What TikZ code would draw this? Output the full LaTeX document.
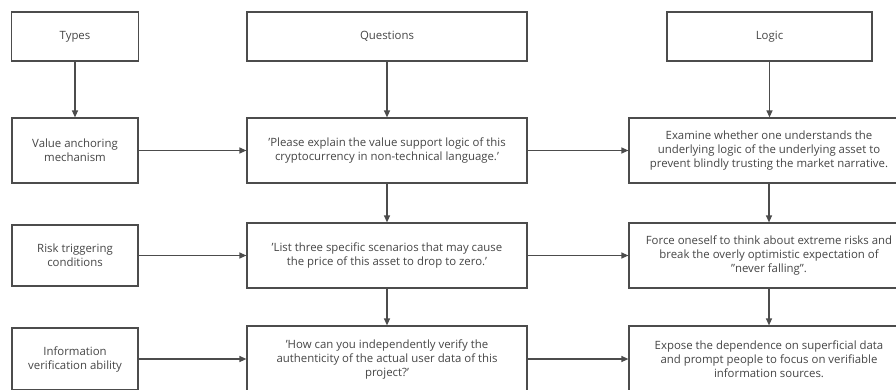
\documentclass[tikz,border=0pt]{standalone}
\usepackage{fontspec}
\setmainfont{Open Sans}
\usetikzlibrary{arrows.meta}
\newcommand{\sq}{\char"0027\relax}
\newcommand{\dq}{\char"0022\relax}
\begin{document}
\begin{tikzpicture}[x=1pt, y=-1pt,
    font=\fontsize{11.4}{14}\selectfont,
    box/.style={draw=boxline, line width=1.2pt, text=txt, align=center,
      inner sep=0pt, minimum height=#1},
    box/.default=65pt,
    flow/.style={draw=boxline, line width=1.2pt,
      -{Triangle[length=7pt,width=6pt]}}]
    \definecolor{boxline}{rgb}{0.30,0.30,0.30}
    \definecolor{txt}{rgb}{0.27,0.27,0.27}
    \useasboundingbox (0,0) rectangle (896,389);
    \clip (0,0) rectangle (896,389);
    \node[box=49pt, minimum width=127pt] (types) at (75,36.5) {Types};
    \node[box=49pt, minimum width=280pt] (quest) at (387,36.5) {Questions};
    \node[box=49pt, minimum width=205pt] (logic) at (769.5,36.5) {Logic};
    \node[box, minimum width=126pt] (value) at (75,150.5) {Value anchoring\\mechanism};
    \node[box, minimum width=280pt] (qvalue) at (387,150.5)
      {\sq Please explain the value support logic of this\\cryptocurrency in non-technical language.\sq};
    \node[box, minimum width=280pt] (lvalue) at (769,150.5)
      {Examine whether one understands the\\underlying logic of the underlying asset to\\prevent blindly trusting the market narrative.};
    \node[box=61pt, minimum width=126pt] (risk) at (75,255.5) {Risk triggering\\conditions};
    \node[box, minimum width=280pt] (qrisk) at (387,255.5)
      {\sq List three specific scenarios that may cause\\the price of this asset to drop to zero.\sq};
    \node[box, minimum width=280pt] (lrisk) at (769,255.5)
      {Force oneself to think about extreme risks and\\break the overly optimistic expectation of\\\dq never falling\dq.};
    \node[box=62pt, minimum width=126pt] (info) at (75,359) {Information\\verification ability};
    \node[box=66pt, minimum width=280pt] (qinfo) at (387,359)
      {\sq How can you independently verify the\\authenticity of the actual user data of this\\project?\sq};
    \node[box=66pt, minimum width=280pt] (linfo) at (769,359)
      {Expose the dependence on superficial data\\and prompt people to focus on verifiable\\information sources.};
    \draw[flow] (types) -- (value);
    \draw[flow] (quest) -- (qvalue);
    \draw[flow] (logic.south) -- (logic.south |- lvalue.north);
    \draw[flow] (value) -- (qvalue);
    \draw[flow] (qvalue) -- (lvalue);
    \draw[flow] (risk) -- (qrisk);
    \draw[flow] (qrisk) -- (lrisk);
    \draw[flow] (info) -- (qinfo);
    \draw[flow] (qinfo) -- (linfo);
    \draw[flow] (qvalue) -- (qrisk);
    \draw[flow] (qrisk) -- (qinfo);
    \draw[flow] (lvalue) -- (lrisk);
    \draw[flow] (lrisk) -- (linfo);
\end{tikzpicture}
\end{document}
